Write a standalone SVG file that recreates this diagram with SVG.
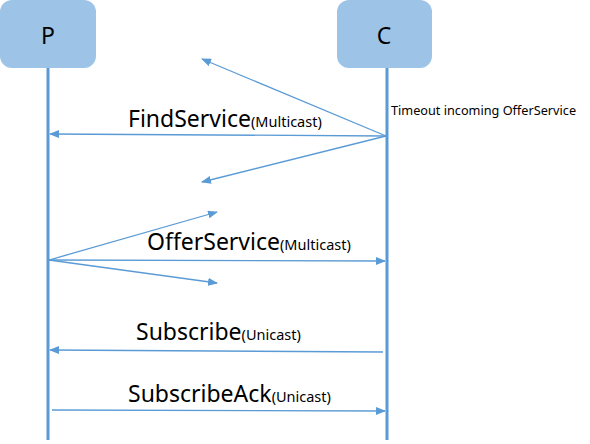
<svg xmlns="http://www.w3.org/2000/svg" width="590" height="444" viewBox="0 0 590 444">
<style>
.box{fill:#9DC3E6}
.life{stroke:#5B9BD5;stroke-width:3}
.msg{stroke:#5B9BD5;stroke-width:1.3;fill:none;marker-end:url(#ah)}
.t{font-family:"Noto Sans","Open Sans",sans-serif;fill:#000}
.big{font-size:23px}
.sm{font-size:14.5px}
</style>
<defs>
<marker id="ah" markerWidth="10" markerHeight="8" refX="9" refY="4" orient="auto" markerUnits="userSpaceOnUse">
<path d="M0,0 L10,4 L0,8 Z" fill="#5B9BD5"/>
</marker>
</defs>
<rect width="590" height="444" fill="#fff"/>
<g id="P">
<rect class="box" x="0" y="0" width="96" height="68" rx="12"/>
<text class="t" font-size="23" x="48" y="44" text-anchor="middle">P</text>
<line class="life" x1="48" y1="68" x2="48" y2="440"/>
</g>
<g id="C">
<rect class="box" x="337" y="0" width="95" height="68" rx="12"/>
<text class="t" font-size="23" x="384" y="44" text-anchor="middle">C</text>
<line class="life" x1="387" y1="68" x2="387" y2="440"/>
</g>
<g id="connectors">
<line class="msg" x1="386" y1="136" x2="202" y2="59"/>
<line class="msg" x1="386" y1="136" x2="50" y2="134"/>
<line class="msg" x1="386" y1="136" x2="202" y2="182"/>
<line class="msg" x1="49" y1="260" x2="217" y2="212"/>
<line class="msg" x1="49" y1="260" x2="385" y2="261"/>
<line class="msg" x1="49" y1="260" x2="217" y2="283"/>
<line class="msg" x1="383" y1="352" x2="50" y2="350"/>
<line class="msg" x1="52" y1="410" x2="385" y2="411"/>
</g>
<g id="labels">
<text class="t" x="391" y="115" font-size="12.7">Timeout incoming OfferService</text>
<text class="t" x="128" y="127"><tspan class="big">FindService</tspan><tspan class="sm">(Multicast)</tspan></text>
<text class="t" x="147" y="250"><tspan class="big">OfferService</tspan><tspan class="sm">(Multicast)</tspan></text>
<text class="t" x="136" y="340"><tspan class="big">Subscribe</tspan><tspan class="sm">(Unicast)</tspan></text>
<text class="t" x="128" y="402"><tspan class="big">SubscribeAck</tspan><tspan class="sm">(Unicast)</tspan></text>
</g>
</svg>
